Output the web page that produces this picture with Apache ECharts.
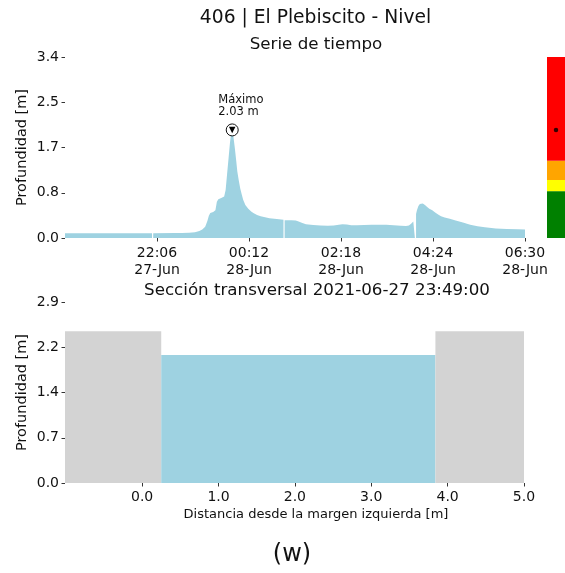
<!DOCTYPE html>
<html><head><meta charset="utf-8">
<script src="https://cdn.jsdelivr.net/npm/echarts@6/dist/echarts.min.js"></script>
<style>html,body{margin:0;padding:0;background:#fff}#c{width:565px;height:573px}</style>
</head><body><div id="c"></div>
<script>
// minutes since 2021-06-27 20:00 ; null = data gap
const seriesTimes = [
  0, 30, 60, 90, 119.2, 120,
  120.8, 150, 160, 170, 178, 184, 188, 192, 195, 197, 199, 203, 206, 208, 210, 214, 218, 220, 222, 224, 226, 227.5, 229,
  230.5, 232.5, 234.5, 236, 238, 240, 242, 244, 247, 251, 255, 258, 263, 268, 274, 280, 290, 299.2, 300,
  300.8, 310, 316, 320, 325, 330, 340, 350, 360, 368, 375, 380, 386, 392, 400, 410, 420, 430, 440, 450, 460, 467, 471, 474, 477, 479.2, 480,
  480.8, 482, 484, 486, 488, 490, 493, 496, 499, 503, 507, 511, 515, 520, 527, 535, 545, 555, 565, 575, 590, 605, 620, 630
];
const seriesDepth = [
  0.088, 0.088, 0.089, 0.09, 0.09, null,
  0.09, 0.092, 0.095, 0.1, 0.11, 0.13, 0.16, 0.21, 0.32, 0.42, 0.47, 0.49, 0.52, 0.68, 0.73, 0.75, 0.78, 0.9, 1.2, 1.5, 1.8, 1.96, 2.03,
  1.92, 1.7, 1.45, 1.25, 1.08, 0.93, 0.82, 0.72, 0.62, 0.55, 0.5, 0.47, 0.43, 0.41, 0.39, 0.37, 0.355, 0.345, null,
  0.335, 0.335, 0.33, 0.31, 0.28, 0.26, 0.245, 0.235, 0.23, 0.235, 0.25, 0.26, 0.255, 0.24, 0.24, 0.245, 0.25, 0.25, 0.25, 0.24, 0.23, 0.225, 0.235, 0.27, 0.31, 0.34, null,
  0.45, 0.52, 0.6, 0.64, 0.66, 0.65, 0.62, 0.58, 0.55, 0.52, 0.48, 0.44, 0.41, 0.385, 0.36, 0.33, 0.29, 0.25, 0.22, 0.2, 0.18, 0.17, 0.165, 0.16
];
const timeTickValues = [126, 252, 378, 504, 630];
const timeTickLabels = ['22:06\n27-Jun', '00:12\n28-Jun', '02:18\n28-Jun', '04:24\n28-Jun', '06:30\n28-Jun'];
const depthTickValues = [0, 0.85, 1.7, 2.55, 3.4];
const depthTickLabels = ['0.0', '0.8', '1.7', '2.5', '3.4'];
const alertLevels = [0.88, 1.09, 1.45, 3.4];   // upper bounds: green, yellow, orange, red
const currentLevel = 2.03;
const sectionX = [-1.01, 0.25, 3.84, 5.0];     // left edge, left bank, right bank, right edge
const bankHeight = 2.43;
const waterLevel = 2.05;
const sectionXTickValues = [0, 1, 2, 3, 4, 5];
const sectionXTickLabels = ['0.0', '1.0', '2.0', '3.0', '4.0', '5.0'];
const sectionYTickValues = [0, 0.725, 1.45, 2.175, 2.9];
const sectionYTickLabels = ['0.0', '0.7', '1.4', '2.2', '2.9'];

const FONT = 'DejaVu Sans';
const TXT = '#111';
const BLUE = '#9ed2e1';
const GRAY = '#d3d3d3';

function pick(vals, labels) {
  return function (v) {
    let bi = 0;
    for (let i = 1; i < vals.length; i++) if (Math.abs(vals[i] - v) < Math.abs(vals[bi] - v)) bi = i;
    return labels[bi];
  };
}
function valueAxis(gridIndex, min, max, ticks, labels, margin, extraLabel) {
  return {
    type: 'value', gridIndex: gridIndex, min: min, max: max,
    axisLine: { show: false, onZero: false },
    splitLine: { show: false },
    axisTick: { show: true, customValues: ticks, length: 3.5, lineStyle: { color: '#000', width: 0.8 } },
    axisLabel: Object.assign({ customValues: ticks, formatter: pick(ticks, labels), color: TXT, fontFamily: FONT, fontSize: 14, margin: margin }, extraLabel || {})
  };
}
function text(t, x, y, size, rot) {
  return { type: 'text', x: x, y: y, rotation: rot || 0, silent: true,
    style: { text: t, fontFamily: FONT, fontSize: size, fill: TXT, align: 'center', verticalAlign: 'middle', textAlign: 'center', textVerticalAlign: 'middle' } };
}

const tsData = seriesTimes.map((t, i) => [t, seriesDepth[i]]);
const alertSeries = alertLevels.map((lv, i) => ({
  type: 'bar', xAxisIndex: 1, yAxisIndex: 1, stack: 'alert', barWidth: '100%', silent: true,
  itemStyle: { color: ['#008000', '#ffff00', '#ffa500', '#ff0000'][i] },
  data: [lv - (i ? alertLevels[i - 1] : 0)]
}));
function areaSeries(pts, color) {
  return { type: 'line', xAxisIndex: 2, yAxisIndex: 2, data: pts, symbol: 'none', silent: true,
    lineStyle: { width: 0 }, areaStyle: { color: color, opacity: 1 } };
}

const chart = echarts.init(document.getElementById('c'), null, { renderer: 'canvas' });
chart.setOption({
  animation: false,
  backgroundColor: '#fff',
  grid: [
    { left: 65, top: 57, width: 460, height: 181 },
    { left: 547, top: 57, width: 18, height: 181 },
    { left: 65, top: 302, width: 459, height: 181 }
  ],
  xAxis: [
    valueAxis(0, 0, 630, timeTickValues, timeTickLabels, 6.5, { lineHeight: 17.5 }),
    { type: 'category', gridIndex: 1, data: ['nivel'], show: false },
    valueAxis(2, sectionX[0], sectionX[3], sectionXTickValues, sectionXTickLabels, 7.5)
  ],
  yAxis: [
    valueAxis(0, 0, 3.4, depthTickValues, depthTickLabels, 6),
    { type: 'value', gridIndex: 1, min: 0, max: 3.4, show: false },
    valueAxis(2, 0, 2.9, sectionYTickValues, sectionYTickLabels, 6)
  ],
  series: [
    {
      type: 'line', xAxisIndex: 0, yAxisIndex: 0, data: tsData, symbol: 'none', connectNulls: false,
      lineStyle: { width: 0 }, areaStyle: { color: BLUE, opacity: 1 }, silent: true,
      markPoint: {
        silent: true,
        data: [
          { type: 'max', symbol: 'circle', symbolSize: 12,
            itemStyle: { color: '#fff', borderColor: '#111', borderWidth: 1 },
            label: { show: true, position: 'top', align: 'left', offset: [-14, 0], distance: 5,
              color: TXT, fontFamily: FONT, fontSize: 11.5, lineHeight: 12.5,
              formatter: p => 'Máximo\n' + p.value.toFixed(2) + ' m' } },
          { type: 'max', symbol: 'triangle', symbolSize: 6.5, symbolRotate: 180,
            itemStyle: { color: '#000' }, label: { show: false } }
        ]
      }
    },
    ...alertSeries,
    { type: 'scatter', xAxisIndex: 1, yAxisIndex: 1, data: [[0, currentLevel]], symbolSize: 4.5, itemStyle: { color: '#000' }, silent: true },
    areaSeries([[sectionX[0], bankHeight], [sectionX[1], bankHeight]], GRAY),
    areaSeries([[sectionX[1], waterLevel], [sectionX[2], waterLevel]], BLUE),
    areaSeries([[sectionX[2], bankHeight], [sectionX[3], bankHeight]], GRAY)
  ],
  graphic: [
    text('406 | El Plebiscito - Nivel', 315.5, 18.5, 18.7),
    text('Serie de tiempo', 316, 44.5, 16.7),
    text('Sección transversal 2021-06-27 23:49:00', 317, 290.5, 16.7),
    text('Profundidad [m]', 22, 147.5, 14.5, Math.PI / 2),
    text('Profundidad [m]', 22, 392.5, 14.5, Math.PI / 2),
    text('Distancia desde la margen izquierda [m]', 316, 515, 13),
    text('(w)', 292, 555, 24)
  ]
});
</script></body></html>
